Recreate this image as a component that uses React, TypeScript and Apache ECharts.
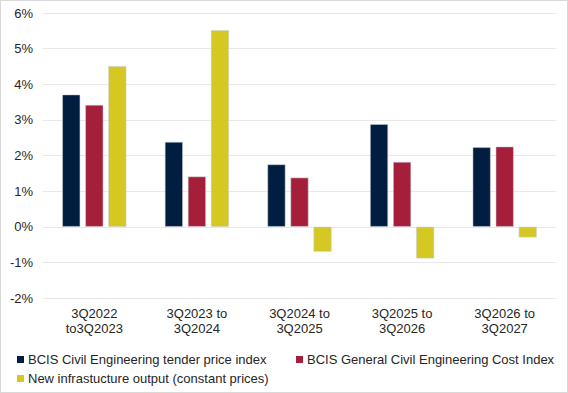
import React, { useEffect, useRef } from "react";
import * as echarts from "echarts";

const categories = [
  "3Q2022\nto3Q2023",
  "3Q2023 to\n3Q2024",
  "3Q2024 to\n3Q2025",
  "3Q2025 to\n3Q2026",
  "3Q2026 to\n3Q2027",
];
const seriesNames = [
  "BCIS Civil Engineering tender price index",
  "BCIS General Civil Engineering Cost Index",
  "New infrastucture output (constant prices)",
];
const tenderPrice = [3.71, 2.38, 1.75, 2.88, 2.23];
const costIndex = [3.42, 1.41, 1.38, 1.82, 2.25];
const infraOutput = [4.51, 5.52, -0.7, -0.89, -0.3];
const colors = ["#011E41", "#A51E3A", "#D6C823"];

export default function App() {
  const ref = useRef<HTMLDivElement>(null);
  useEffect(() => {
    if (!ref.current) return;
    const chart = echarts.init(ref.current, undefined, { renderer: "svg" });
    const values = [tenderPrice, costIndex, infraOutput];
    const font = "Liberation Sans, Arial, sans-serif";
    const legendPos = [
      { left: 16, top: 352 },
      { left: 295, top: 352 },
      { left: 16, top: 371 },
    ];
    chart.setOption({
      animation: false,
      backgroundColor: "#ffffff",
      textStyle: { fontFamily: font },
      grid: { left: 42, right: 11, top: 12, bottom: 94 },
      legend: seriesNames.map((n, i) => ({
        data: [n],
        left: legendPos[i].left,
        top: legendPos[i].top,
        padding: 0,
        itemWidth: 7,
        itemHeight: 7,
        icon: "rect",
        itemGap: 5,
        itemStyle: { borderWidth: 0 },
        textStyle: { fontSize: 13, color: "#262626", fontFamily: font, padding: [0, 0, 0, -1] },
      })),
      xAxis: {
        type: "category",
        data: categories,
        axisLine: { show: false },
        axisTick: { show: false },
        axisLabel: {
          fontSize: 13,
          color: "#262626",
          lineHeight: 15,
          margin: 8,
          interval: 0,
          fontFamily: font,
        },
      },
      yAxis: {
        type: "value",
        min: -2,
        max: 6,
        interval: 1,
        axisLine: { show: false },
        axisTick: { show: false },
        axisLabel: {
          formatter: "{value}%",
          fontSize: 13,
          color: "#262626",
          margin: 10,
          fontFamily: font,
        },
        splitLine: { lineStyle: { color: "#e8e8e8", width: 1 } },
      },
      series: seriesNames.map((n, i) => ({
        name: n,
        type: "bar",
        data: values[i],
        barWidth: 18,
        barGap: "28%",
        itemStyle: {
          color: colors[i],
          borderColor: "rgba(200,205,215,0.9)",
          borderWidth: 0.6,
        },
      })),
    });
    return () => chart.dispose();
  }, []);
  return (
    <div
      ref={ref}
      style={{
        position: "fixed",
        left: 0,
        top: 0,
        width: 568,
        height: 393,
        boxSizing: "border-box",
        border: "1px solid #d9d9d9",
        background: "#fff",
      }}
    />
  );
}
